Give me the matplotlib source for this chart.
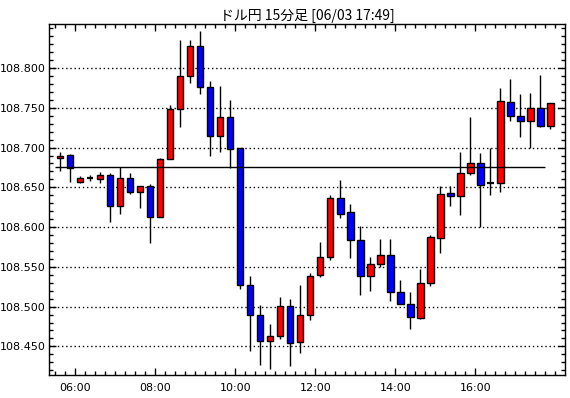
import matplotlib
matplotlib.use("Agg")
import matplotlib.pyplot as plt
from matplotlib.ticker import MultipleLocator, FixedLocator, FuncFormatter
import numpy as np

# USD/JPY 15 minute candles, 05:30 .. 17:45 (start times)
first_start = 5.5      # hours
step = 0.25            # 15 min
opens = [108.687, 108.691, 108.657, 108.662, 108.660, 108.665, 108.626, 108.662, 108.644, 108.652,
         108.613, 108.686, 108.748, 108.790, 108.828, 108.776, 108.714, 108.738, 108.699, 108.527,
         108.489, 108.457, 108.463, 108.501, 108.455, 108.490, 108.540, 108.562, 108.636, 108.619,
         108.584, 108.538, 108.553, 108.565, 108.518, 108.503, 108.486, 108.530, 108.586, 108.643,
         108.639, 108.668, 108.680, 108.655, 108.655, 108.757, 108.740, 108.733, 108.750, 108.727]
highs = [108.694, 108.692, 108.664, 108.665, 108.669, 108.668, 108.675, 108.668, 108.652, 108.654,
         108.687, 108.754, 108.835, 108.835, 108.847, 108.784, 108.778, 108.760, 108.699, 108.538,
         108.502, 108.478, 108.512, 108.509, 108.527, 108.542, 108.581, 108.641, 108.659, 108.629,
         108.601, 108.563, 108.585, 108.585, 108.533, 108.518, 108.547, 108.590, 108.652, 108.652,
         108.695, 108.738, 108.693, 108.699, 108.775, 108.786, 108.767, 108.769, 108.791, 108.756]
lows = [108.671, 108.657, 108.655, 108.658, 108.656, 108.607, 108.617, 108.642, 108.624, 108.580,
        108.613, 108.686, 108.726, 108.781, 108.767, 108.690, 108.694, 108.674, 108.522, 108.444,
        108.427, 108.422, 108.459, 108.425, 108.442, 108.483, 108.537, 108.559, 108.612, 108.561,
        108.515, 108.520, 108.550, 108.507, 108.503, 108.472, 108.485, 108.526, 108.568, 108.626,
        108.615, 108.665, 108.600, 108.640, 108.644, 108.733, 108.713, 108.699, 108.726, 108.723]
closes = [108.690, 108.674, 108.662, 108.662, 108.665, 108.626, 108.662, 108.644, 108.652, 108.613,
          108.686, 108.748, 108.790, 108.828, 108.776, 108.714, 108.738, 108.698, 108.527, 108.489,
          108.457, 108.463, 108.501, 108.454, 108.489, 108.539, 108.562, 108.637, 108.617, 108.584,
          108.538, 108.553, 108.565, 108.518, 108.503, 108.487, 108.530, 108.587, 108.642, 108.639,
          108.668, 108.680, 108.653, 108.655, 108.758, 108.740, 108.733, 108.750, 108.727, 108.756]
ref_price = 108.675
hour_ticks = [6, 8, 10, 12, 14, 16]
price_ticks = [108.45, 108.50, 108.55, 108.60, 108.65, 108.70, 108.75, 108.80]
title = "ドル円 15分足 [06/03 17:49]"

o = np.array(opens)
h = np.array(highs)
l = np.array(lows)
c = np.array(closes)
t = first_start + step * np.arange(len(o)) + step / 2
width = step * 0.65

fig = plt.figure(figsize=(5.7, 3.98), dpi=100)
ax = fig.add_axes([0.0868, 0.0578, 0.9044, 0.8810])

# wicks
ax.vlines(t, l, h, color="black", linewidth=1.0, zorder=2)

# bodies
up = c > o
down = c < o
flat = c == o
ax.bar(t[up], (c - o)[up], width=width, bottom=o[up], color="#ff0000",
       edgecolor="black", linewidth=1.0, zorder=3)
ax.bar(t[down], (o - c)[down], width=width, bottom=c[down], color="#0000ff",
       edgecolor="black", linewidth=1.0, zorder=3)
ax.hlines(o[flat], t[flat] - width / 2, t[flat] + width / 2, color="black",
          linewidth=1.6, zorder=3)

ax.hlines(ref_price, first_start, t[-1] - step / 2, color="black", linewidth=1.0, zorder=4)

ax.set_xlim(5.36, 18.24)
ax.set_ylim(108.414, 108.855)

ax.xaxis.set_major_locator(FixedLocator(hour_ticks))
ax.xaxis.set_minor_locator(MultipleLocator(0.25))
ax.xaxis.set_major_formatter(FuncFormatter(lambda v, p: "%02d:00" % int(round(v))))
ax.yaxis.set_major_locator(FixedLocator(price_ticks))
ax.yaxis.set_minor_locator(MultipleLocator(0.01))
ax.yaxis.set_major_formatter(FuncFormatter(lambda v, p: "%.3f" % v))

ax.tick_params(which="both", direction="in", top=True, right=True, labelsize=8, colors="black")
ax.tick_params(which="major", length=5, width=1)
ax.tick_params(which="minor", length=3, width=1)
ax.tick_params(axis="x", pad=6)
ax.tick_params(axis="y", pad=3)

ax.grid(axis="y", which="major", linestyle=(0, (1, 2)), color="black", linewidth=1.0)
ax.set_axisbelow(True)
for s in ax.spines.values():
    s.set_linewidth(1.0)

ax.set_title(title, fontsize=10, family=["Noto Sans CJK JP", "DejaVu Sans"], pad=3)

fig.savefig("out.png", dpi=100)
